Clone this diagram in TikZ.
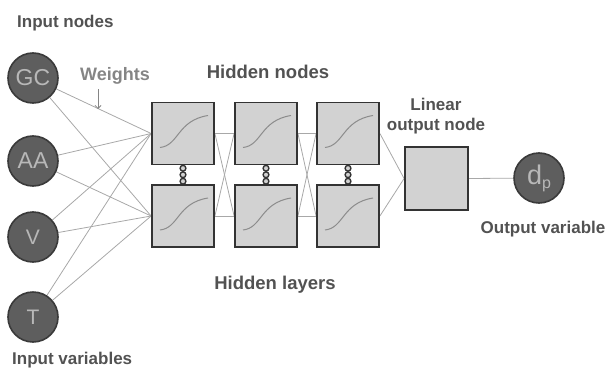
\documentclass[tikz,border=0pt]{standalone}
\usepackage{fontspec}
\setmainfont{Liberation Sans}
\usetikzlibrary{arrows.meta}
\pgfdeclarelayer{bg}
\pgfsetlayers{bg,main}
\definecolor{lbl}{HTML}{525252}
\definecolor{wlbl}{HTML}{858585}
\definecolor{nodefill}{HTML}{5E5E5E}
\definecolor{nodeedge}{HTML}{3A3A3A}
\definecolor{nodetext}{HTML}{B8B8B8}
\definecolor{boxfill}{HTML}{D2D2D2}
\definecolor{boxedge}{HTML}{333333}
\definecolor{wire}{HTML}{A8A8A8}
\definecolor{sig}{HTML}{8C8C8C}
\tikzset{
  innode/.style={circle, draw=nodeedge, line width=1.6pt, fill=nodefill, minimum size=50pt, inner sep=0pt, text=nodetext, font=\fontsize{23}{23}\selectfont},
  hbox/.style={rectangle, draw=boxedge, line width=1.8pt, fill=boxfill, minimum size=62pt, inner sep=0pt},
  wirestyle/.style={draw=wire, line width=0.8pt},
  lab/.style={text=lbl, font=\bfseries\fontsize{17}{19}\selectfont, inner sep=0pt},
  biglab/.style={text=lbl, font=\bfseries\fontsize{18.5}{20}\selectfont, inner sep=0pt},
  sigcurve/.style={draw=sig, line width=1pt},
  chainring/.style={draw=boxedge, line width=1.4pt, fill=boxfill}
}
\newcommand{\sigm}[1]{%
  \draw[sigcurve] ([shift={(-23pt,-14pt)}]#1.center) .. controls ([shift={(-4pt,-12pt)}]#1.center) and ([shift={(-6pt,13pt)}]#1.center) .. ([shift={(25pt,18pt)}]#1.center);}
\newcommand{\chainlink}[1]{%
  \foreach \dy in {-6.5,0,6.5} {\draw[chainring] ([yshift=\dy pt]#1) circle (2.9pt);}}
\begin{document}
\begin{tikzpicture}[x=1pt,y=-1pt]
\useasboundingbox (0,0) rectangle (607,369);
% input nodes
\node[innode] (gc) at (33,78) {GC};
\node[innode] (aa) at (33,161) {AA};
\node[innode, font=\fontsize{21}{21}\selectfont] (v) at (33,237) {V};
\node[innode, font=\fontsize{21}{21}\selectfont] (t) at (33,317) {T};
% hidden boxes
\node[hbox] (h11) at (183,133.5) {};
\node[hbox] (h12) at (183,216) {};
\node[hbox] (h21) at (266,133.5) {};
\node[hbox] (h22) at (266,216) {};
\node[hbox] (h31) at (348,133.5) {};
\node[hbox] (h32) at (348,216) {};
\foreach \b in {h11,h12,h21,h22,h31,h32} {\sigm{\b}}
% output box and variable
\node[hbox, minimum size=63pt] (out) at (436.5,178.5) {};
\node[innode, font=\fontsize{27}{27}\selectfont] (dp) at (539,178) {d\raisebox{-4pt}{\fontsize{16}{16}\selectfont p}};
% wires
\begin{pgfonlayer}{bg}
\foreach \s in {gc,aa,v,t} {
  \draw[wirestyle] (\s) -- (h11.west);
  \draw[wirestyle] (\s) -- (h12.west);
}
\draw[wirestyle] (h11.east) -- (h21.west);
\draw[wirestyle] (h11.east) -- (h22.west);
\draw[wirestyle] (h12.east) -- (h21.west);
\draw[wirestyle] (h12.east) -- (h22.west);
\draw[wirestyle] (h21.east) -- (h31.west);
\draw[wirestyle] (h21.east) -- (h32.west);
\draw[wirestyle] (h22.east) -- (h31.west);
\draw[wirestyle] (h22.east) -- (h32.west);
\draw[wirestyle] (h31.east) -- (out.west);
\draw[wirestyle] (h32.east) -- (out.west);
\draw[wirestyle] (out.east) -- (dp);
\end{pgfonlayer}
% chain links
\path (h11.south) -- (h12.north) coordinate[pos=0.5] (c1);
\path (h21.south) -- (h22.north) coordinate[pos=0.5] (c2);
\path (h31.south) -- (h32.north) coordinate[pos=0.5] (c3);
\chainlink{c1}
\chainlink{c2}
\chainlink{c3}
% labels
\node[lab, anchor=base west] (inlab) at (17,28) {Input nodes};
\node[lab, anchor=base west, text=wlbl, font=\bfseries\fontsize{18}{20}\selectfont] (wlab) at (80,80) {Weights};
\coordinate (warrowtop) at (98,89);
\coordinate (warrowbot) at (98,109);
\draw[draw=wlbl, line width=0.8pt, -{Straight Barb[length=3pt,width=6pt]}] (warrowtop) -- (warrowbot);
\node[biglab, anchor=base] (hnlab) at (268,78) {Hidden nodes};
\node[lab, anchor=base] (lonlab) at (436,110) {Linear};
\node[lab, anchor=base] (lonlab2) at (436,130) {output node};
\node[lab, anchor=base] (ovlab) at (543,233) {Output variable};
\node[biglab, anchor=base] (hllab) at (275,289) {Hidden layers};
\node[lab, anchor=base west] (ivlab) at (12,364) {Input variables};
\end{tikzpicture}
\end{document}
